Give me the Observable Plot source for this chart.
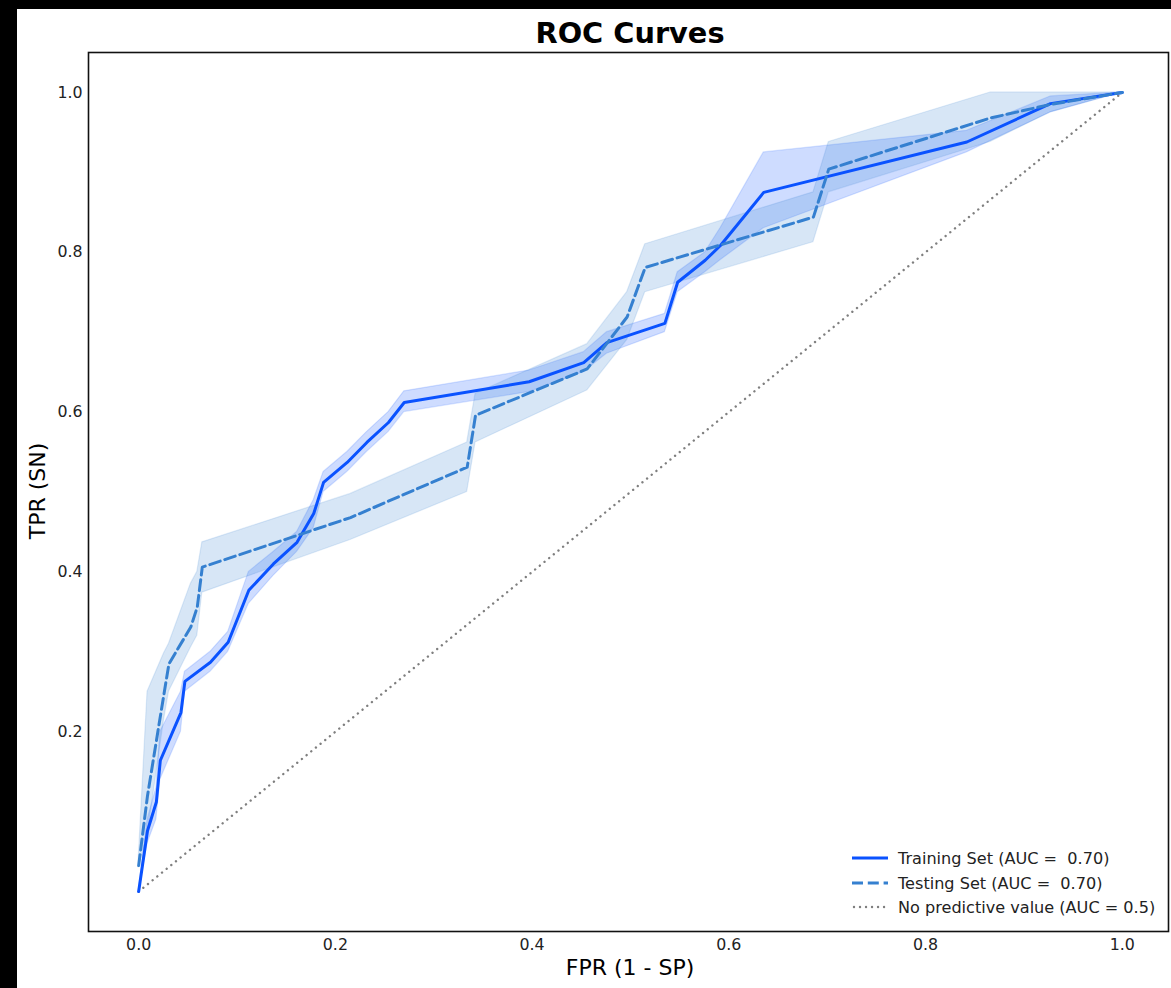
<!DOCTYPE html>
<html><head><meta charset="utf-8">
<script src="https://cdn.jsdelivr.net/npm/d3@7"></script>
<script src="https://cdn.jsdelivr.net/npm/@observablehq/plot@0.6"></script>
<style>
html,body{margin:0;padding:0;background:#000;width:1171px;height:988px;overflow:hidden;font-family:"DejaVu Sans",sans-serif;}
#page{position:absolute;left:17px;top:9px;width:1154px;height:979px;background:#fff;}
#chart{position:absolute;left:0;top:35px;}
.t{position:absolute;white-space:pre;color:#000;transform:translate(-50%,-50%);line-height:1;}
#title{left:613px;top:24px;font-size:28.8px;font-weight:bold;}
#xlabel{left:613px;top:959px;font-size:22px;}
#ylabel{left:21px;top:482px;font-size:22px;transform:translate(-50%,-50%) rotate(-90deg);}
.lg{position:absolute;left:835px;height:20px;display:flex;align-items:center;font-size:16.1px;white-space:pre;color:#222;}
.lg svg{margin-right:10px;}
</style>
</head><body>
<div id="page">
  <div id="title" class="t">ROC Curves</div>
  <div id="chart"></div>
  <div id="xlabel" class="t">FPR (1 - SP)</div>
  <div id="ylabel" class="t">TPR (SN)</div>
  <div id="legend"></div>
</div>
<script>
// ---- data ----
const trainFPR = [0, 0.009, 0.018, 0.022, 0.043, 0.047, 0.073, 0.091, 0.112, 0.137, 0.161, 0.178, 0.188, 0.212, 0.232, 0.254, 0.270, 0.397, 0.4525, 0.476, 0.535, 0.548, 0.576, 0.5915, 0.6355, 0.842, 0.927, 1.0];
const trainTPR = [0, 0.076, 0.112, 0.164, 0.224, 0.263, 0.287, 0.312, 0.377, 0.41, 0.437, 0.473, 0.512, 0.537, 0.562, 0.587, 0.612, 0.638, 0.662, 0.687, 0.711, 0.7625, 0.79, 0.8085, 0.875, 0.938, 0.986, 1.0];
const trainLo  = [0, 0.06, 0.09, 0.14, 0.20, 0.25, 0.275, 0.30, 0.36, 0.395, 0.425, 0.455, 0.50, 0.525, 0.55, 0.575, 0.60, 0.625, 0.65, 0.673, 0.70, 0.75, 0.775, 0.79, 0.83, 0.925, 0.975, 1.0];
const trainHi  = [0, 0.09, 0.13, 0.20, 0.25, 0.275, 0.30, 0.325, 0.40, 0.425, 0.45, 0.49, 0.525, 0.55, 0.575, 0.60, 0.626, 0.652, 0.675, 0.70, 0.723, 0.775, 0.80, 0.83, 0.925, 0.952, 0.995, 1.0];

const testFPR = [0, 0.009, 0.0257, 0.0308, 0.053, 0.0596, 0.0647, 0.2154, 0.334, 0.3425, 0.456, 0.4966, 0.515, 0.686, 0.7016, 0.866, 0.927, 1.0];
const testTPR = [0.0325, 0.12, 0.247, 0.285, 0.331, 0.356, 0.406, 0.468, 0.531, 0.596, 0.654, 0.719, 0.781, 0.844, 0.904, 0.968, 0.985, 1.0];
const testLo  = [0.03, 0.07, 0.214, 0.25, 0.305, 0.32, 0.374, 0.44, 0.50, 0.562, 0.627, 0.69, 0.75, 0.8125, 0.875, 0.938, 0.975, 1.0];
const testHi  = [0.04, 0.25, 0.298, 0.31, 0.385, 0.40, 0.437, 0.4976, 0.562, 0.623, 0.685, 0.75, 0.81, 0.875, 0.938, 1.0, 1.0, 1.0];

const chanceFPR = [0, 1];
const chanceTPR = [0, 1];

const xTicks = [0.0, 0.2, 0.4, 0.6, 0.8, 1.0];
const yTicks = [0.2, 0.4, 0.6, 0.8, 1.0];

const seriesNames = ["Training Set (AUC =  0.70)", "Testing Set (AUC =  0.70)", "No predictive value (AUC = 0.5)"];

const trainColor = "#0a52ff";
const testColor = "#3580d0";
const chanceColor = "#7f7f7f";

// ---- tables ----
const train = trainFPR.map((x, i) => ({x, y: trainTPR[i], lo: trainLo[i], hi: trainHi[i]}));
const test = testFPR.map((x, i) => ({x, y: testTPR[i], lo: testLo[i], hi: testHi[i]}));
const chance = chanceFPR.map((x, i) => ({x, y: chanceTPR[i]}));

const chart = Plot.plot({
  width: 1154,
  height: 944,
  marginTop: 8,
  marginBottom: 57,
  marginLeft: 71,
  marginRight: 3,
  style: {fontFamily: "DejaVu Sans, sans-serif", fontSize: "15.8px", color: "#222", background: "#fff"},
  x: {domain: [-0.051, 1.047], ticks: xTicks, tickFormat: ".1f", tickSize: 0, tickPadding: 7, label: null},
  y: {domain: [-0.05, 1.05], ticks: yTicks, tickFormat: ".1f", tickSize: 0, tickPadding: 6, label: null},
  marks: [
    Plot.areaY(train, {x: "x", y1: "lo", y2: "hi", fill: trainColor, fillOpacity: 0.2, stroke: trainColor, strokeOpacity: 0.15, strokeWidth: 1.2}),
    Plot.areaY(test, {x: "x", y1: "lo", y2: "hi", fill: testColor, fillOpacity: 0.2, stroke: testColor, strokeOpacity: 0.15, strokeWidth: 1.2}),
    Plot.line(chance, {x: "x", y: "y", stroke: chanceColor, strokeWidth: 2.4, strokeLinecap: "round", strokeDasharray: "0.01,6"}),
    Plot.line(train, {x: "x", y: "y", stroke: trainColor, strokeWidth: 3, strokeLinejoin: "round"}),
    Plot.line(test, {x: "x", y: "y", stroke: testColor, strokeWidth: 3, strokeDasharray: "11,4.8"}),
    Plot.frame({stroke: "#111", strokeWidth: 1.6})
  ]
});
document.getElementById("chart").appendChild(chart);

// ---- legend ----
const legendStyles = [
  {color: trainColor, dash: null, width: 3, cap: "butt"},
  {color: testColor, dash: "11,4.8", width: 3, cap: "butt"},
  {color: chanceColor, dash: "0.01,6", width: 2.4, cap: "round"}
];
const legendTops = [839, 864, 888];
const legend = document.getElementById("legend");
seriesNames.forEach((name, i) => {
  const row = document.createElement("div");
  row.className = "lg";
  row.style.top = legendTops[i] + "px";
  const s = legendStyles[i];
  row.innerHTML = `<svg width="36" height="20"><line x1="${s.cap === "round" ? 2 : 0}" y1="10" x2="36" y2="10" stroke="${s.color}" stroke-width="${s.width}" stroke-linecap="${s.cap}" ${s.dash ? `stroke-dasharray="${s.dash}"` : ""}/></svg><span>${name}</span>`;
  legend.appendChild(row);
});
</script>
</body></html>
